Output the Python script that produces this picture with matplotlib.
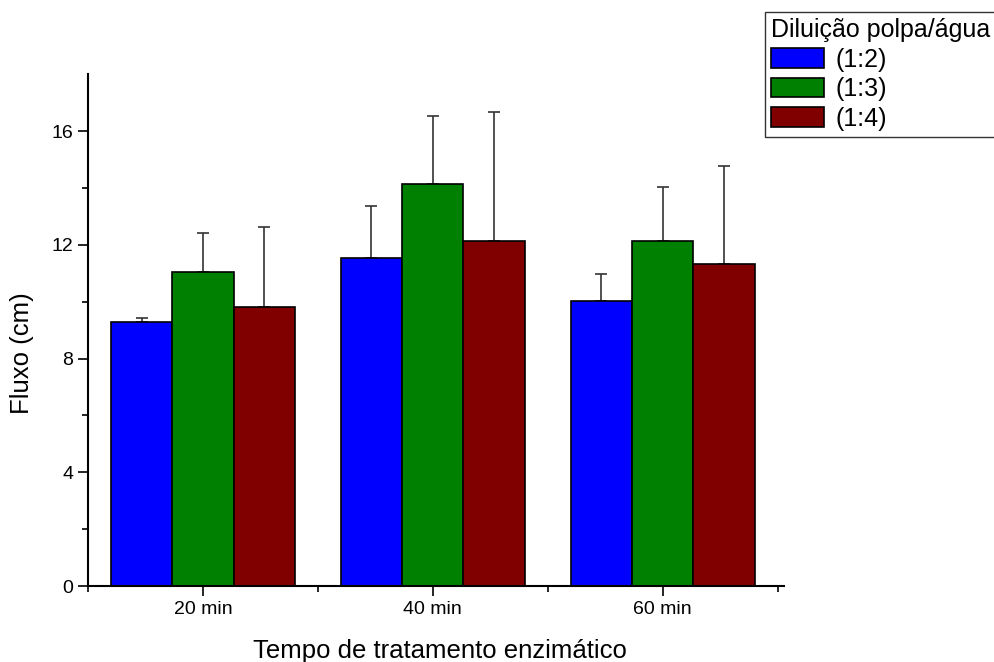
import matplotlib.pyplot as plt
import numpy as np

plt.rcParams["font.family"] = ["Liberation Sans", "DejaVu Sans"]

categories = ["20 min", "40 min", "60 min"]
series = ["(1:2)", "(1:3)", "(1:4)"]
colors = ["#0000ff", "#008000", "#800000"]

means = {
    "(1:2)": [9.30, 11.52, 10.04],
    "(1:3)": [11.03, 14.13, 12.12],
    "(1:4)": [9.80, 12.12, 11.31],
}
errors = {
    "(1:2)": [0.11, 1.84, 0.92],
    "(1:3)": [1.38, 2.40, 1.91],
    "(1:4)": [2.82, 4.55, 3.46],
}

fig = plt.figure(figsize=(9.95, 6.62), dpi=100)
ax = fig.add_axes([0.0884, 0.1148, 0.700, 0.773])

x = np.arange(1, len(categories) + 1)
width = 0.8 / len(series)

handles = []
for i, (name, color) in enumerate(zip(series, colors)):
    pos = x + (i - 1) * width
    bars = ax.bar(pos, means[name], width, color=color, edgecolor="black",
                  linewidth=1.2, label=name, zorder=2)
    ax.errorbar(pos, means[name], yerr=[np.zeros(len(x)), errors[name]],
                fmt="none", ecolor="#333333", elinewidth=1.2, capsize=4,
                capthick=1.2, zorder=1)
    handles.append(bars)

ax.set_xlim(0.5, 3.53)
ax.set_ylim(0, 18)
ax.set_yticks([0, 4, 8, 12, 16])
ax.set_yticks([2, 6, 10, 14], minor=True)
ax.set_xticks(x)
ax.set_xticklabels(categories)
ax.set_xticks([0.5, 1.5, 2.5, 3.5], minor=True)

for side in ["top", "right"]:
    ax.spines[side].set_visible(False)
for side in ["left", "bottom"]:
    ax.spines[side].set_linewidth(1.5)

ax.tick_params(axis="both", which="major", direction="out", length=7,
               width=1.2, labelsize=14)
ax.tick_params(axis="both", which="minor", direction="out", length=4,
               width=1.2)

ax.set_xlabel("Tempo de tratamento enzimático", fontsize=18.5)
ax.set_ylabel("Fluxo (cm)", fontsize=18.5)
ax.xaxis.set_label_coords(0.505, -0.103)
ax.yaxis.set_label_coords(-0.078, 0.455)

leg = fig.legend(handles=handles, labels=series, title="Diluição polpa/água",
                 loc="upper left", bbox_to_anchor=(0.769, 0.982),
                 fontsize=18, title_fontsize=18, frameon=True, fancybox=False,
                 edgecolor="black", handlelength=2.1, handleheight=0.85,
                 handletextpad=0.45, borderpad=0.25, labelspacing=0.22,
                 borderaxespad=0.0, alignment="left")
leg.get_frame().set_linewidth(1.0)

fig.savefig("out.png", dpi=100)
